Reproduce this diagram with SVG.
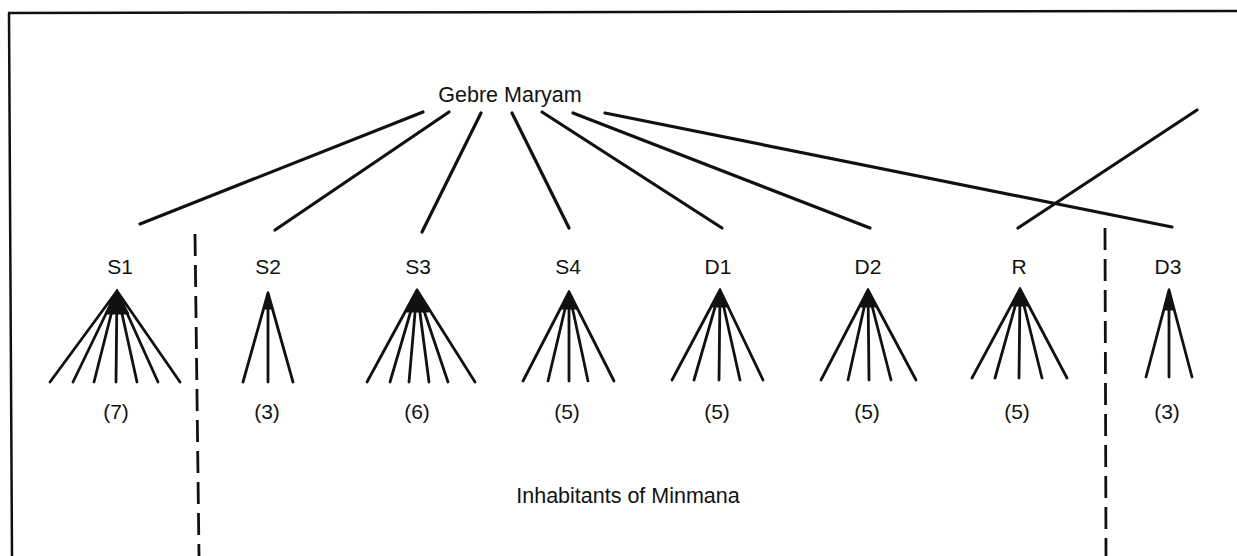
<svg xmlns="http://www.w3.org/2000/svg" width="1237" height="556" viewBox="0 0 1237 556">
  <style>
    .frame { fill: none; stroke: #111; stroke-width: 2.5; }
    .link { fill: none; stroke: #111; stroke-width: 3.2; stroke-linecap: round; }
    .fan { fill: none; stroke: #111; stroke-width: 2.8; stroke-linecap: round; }
    .apex { fill: #111; stroke: #111; stroke-width: 1; stroke-linejoin: round; }
    .divider { fill: none; stroke: #111; stroke-width: 2.8; stroke-dasharray: 22 9; }
    text { font-family: "Liberation Sans", Arial, sans-serif; fill: #111; text-anchor: middle; }
    .head { font-size: 21.5px; }
    .lbl { font-size: 21px; }
    .cnt { font-size: 21px; }
    .cap { font-size: 21.5px; }
  </style>

  <!-- outer frame: top and left edges only -->
  <path class="frame" d="M8,13 L1237,11 M9,13 L12,556"/>

  <!-- dashed boundaries of Minmana -->
  <g id="boundaries">
    <path class="divider" d="M195,234 L199,556"/>
    <path class="divider" d="M1105,228 L1106,556"/>
  </g>

  <!-- head -->
  <g id="gebre-maryam">
    <text class="head" x="510" y="102">Gebre Maryam</text>
  </g>

  <!-- connectors from the head to each group -->
  <g id="connectors">
    <path class="link" d="M423,112 L140,224"/>
    <path class="link" d="M449,112 L275,230"/>
    <path class="link" d="M481,113 L422,232"/>
    <path class="link" d="M512,113 L569,228"/>
    <path class="link" d="M542,112 L722,228"/>
    <path class="link" d="M573,113 L870,228"/>
    <path class="link" d="M605,113 L1172,227"/>
    <path class="link" d="M1018,228 L1197,110"/>
  </g>

  <!-- groups with their followers -->
  <g id="S1">
    <text class="lbl" x="120" y="274">S1</text>
    <path class="apex" d="M117,291 L105,314 L129,314 Z"/>
    <path class="fan" d="M117,291 L50,382 M117,291 L73,382 M117,291 L94,382 M117,291 L116,382 M117,291 L137,382 M117,291 L158,382 M117,291 L180,382"/>
    <text class="cnt" x="116" y="419">(7)</text>
  </g>

  <g id="S2">
    <text class="lbl" x="268" y="274">S2</text>
    <path class="apex" d="M268,293 L263,309 L273,309 Z"/>
    <path class="fan" d="M268,293 L243,382 M268,293 L268,382 M268,293 L293,382"/>
    <text class="cnt" x="267" y="419">(3)</text>
  </g>

  <g id="S3">
    <text class="lbl" x="418" y="274">S3</text>
    <path class="apex" d="M417,290 L405,312 L429,312 Z"/>
    <path class="fan" d="M417,290 L367,382 M417,290 L390,382 M417,290 L409,382 M417,290 L429,382 M417,290 L448,382 M417,290 L475,382"/>
    <text class="cnt" x="417" y="419">(6)</text>
  </g>

  <g id="S4">
    <text class="lbl" x="568" y="274">S4</text>
    <path class="apex" d="M569,292 L560,309 L578,309 Z"/>
    <path class="fan" d="M569,292 L523,381 M569,292 L548,381 M569,292 L569,381 M569,292 L588,381 M569,292 L614,381"/>
    <text class="cnt" x="567" y="419">(5)</text>
  </g>

  <g id="D1">
    <text class="lbl" x="718" y="274">D1</text>
    <path class="apex" d="M720,290 L711,307 L729,307 Z"/>
    <path class="fan" d="M720,290 L672,380 M720,290 L694,380 M720,290 L719,380 M720,290 L740,380 M720,290 L763,380"/>
    <text class="cnt" x="717" y="419">(5)</text>
  </g>

  <g id="D2">
    <text class="lbl" x="868" y="274">D2</text>
    <path class="apex" d="M868,290 L859,307 L877,307 Z"/>
    <path class="fan" d="M868,290 L821,380 M868,290 L848,380 M868,290 L869,380 M868,290 L891,380 M868,290 L916,380"/>
    <text class="cnt" x="867" y="419">(5)</text>
  </g>

  <g id="R">
    <text class="lbl" x="1019" y="274">R</text>
    <path class="apex" d="M1020,289 L1011,306 L1029,306 Z"/>
    <path class="fan" d="M1020,289 L972,378 M1020,289 L995,378 M1020,289 L1019,378 M1020,289 L1042,378 M1020,289 L1067,378"/>
    <text class="cnt" x="1017" y="419">(5)</text>
  </g>

  <g id="D3">
    <text class="lbl" x="1168" y="274">D3</text>
    <path class="apex" d="M1169,290 L1164,310 L1174,310 Z"/>
    <path class="fan" d="M1169,290 L1146,377 M1169,290 L1169,377 M1169,290 L1192,377"/>
    <text class="cnt" x="1167" y="419">(3)</text>
  </g>

  <!-- caption of the whole village -->
  <g id="caption">
    <text class="cap" x="628" y="503">Inhabitants of Minmana</text>
  </g>
</svg>
